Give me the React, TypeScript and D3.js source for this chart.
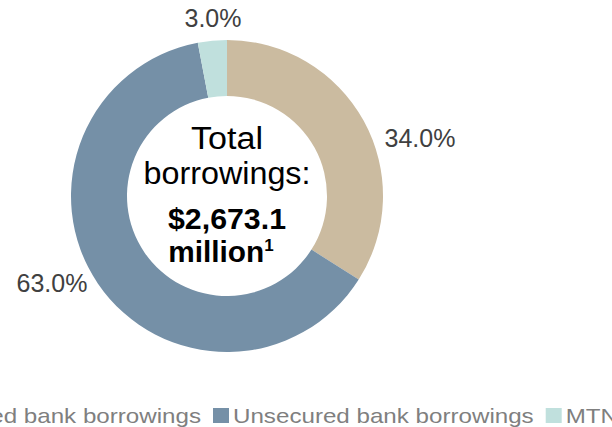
import React, { useEffect, useRef } from "react";
import * as d3 from "d3";

const categories = ["Secured bank borrowings", "Unsecured bank borrowings", "MTN"];
const values = [34.0, 63.0, 3.0];
const colors = ["#cbbba0", "#7590a7", "#c0e0dd"];
const labels = ["34.0%", "63.0%", "3.0%"];

export default function App() {
  const ref = useRef<SVGSVGElement>(null);
  useEffect(() => {
    const svg = d3.select(ref.current);
    svg.selectAll("*").remove();
    const cx = 227, cy = 196, R = 156, r = 100;
    const font = "'Liberation Sans', Arial, sans-serif";
    const pie = d3.pie<number>().sort(null)(values);
    const arc = d3.arc<d3.PieArcDatum<number>>().innerRadius(r).outerRadius(R);
    const g = svg.append("g").attr("transform", `translate(${cx},${cy})`);
    g.selectAll("path").data(pie).join("path").attr("d", arc as any).attr("fill", (_, i) => colors[i]);

    const labelPos = [
      [420, 147],
      [52, 292],
      [213, 27],
    ];
    labels.forEach((t, i) => {
      svg.append("text")
        .attr("x", labelPos[i][0]).attr("y", labelPos[i][1])
        .attr("text-anchor", "middle")
        .attr("font-family", font).attr("font-size", 25).attr("fill", "#404040")
        .text(t);
    });

    const center: [string, number, number, number, number][] = [
      ["Total", 149, 31, 400, 72],
      ["borrowings:", 184, 31, 400, 167],
      ["$2,673.1", 229, 30, 700, 118],
      ["million", 262, 30, 700, 96],
    ];
    center.forEach(([t, y, fs, fw, w], i) => {
      const tx = svg.append("text")
        .attr("x", i === 3 ? cx - 6 : cx).attr("y", y).attr("text-anchor", "middle")
        .attr("font-family", font).attr("font-size", fs).attr("font-weight", fw)
        .attr("fill", "#000");
      tx.append("tspan").attr("textLength", w).attr("lengthAdjust", "spacingAndGlyphs").text(t);
      if (i === 3) tx.append("tspan").attr("font-size", 17).attr("dy", -11).text("1");
    });

    // legend
    const lg = svg.append("g");
    const items: { g: any; w: number }[] = [];
    const scaleW = 1.15;
    categories.forEach((c, i) => {
      const ig = lg.append("g");
      ig.append("rect").attr("x", 0).attr("y", -15).attr("width", 16).attr("height", 15).attr("fill", colors[i]);
      const t = ig.append("text").attr("x", 20).attr("y", 0)
        .attr("font-family", font).attr("font-size", 21).attr("fill", "#7f7f7f").text(c);
      const nat = (t.node() as SVGTextElement).getComputedTextLength();
      const tw = nat * scaleW;
      t.attr("textLength", tw).attr("lengthAdjust", "spacingAndGlyphs");
      items.push({ g: ig, w: 20 + tw });
    });
    const gap = 12;
    const startX = 213;
    const baseY = 423;
    items[1].g.attr("transform", `translate(${startX},${baseY})`);
    items[0].g.attr("transform", `translate(${startX - gap - items[0].w},${baseY})`);
    items[2].g.attr("transform", `translate(${startX + items[1].w + gap},${baseY})`);
  }, []);
  return <svg ref={ref} width={612} height={427} style={{ position: "absolute", left: 0, top: 0 }} />;
}
